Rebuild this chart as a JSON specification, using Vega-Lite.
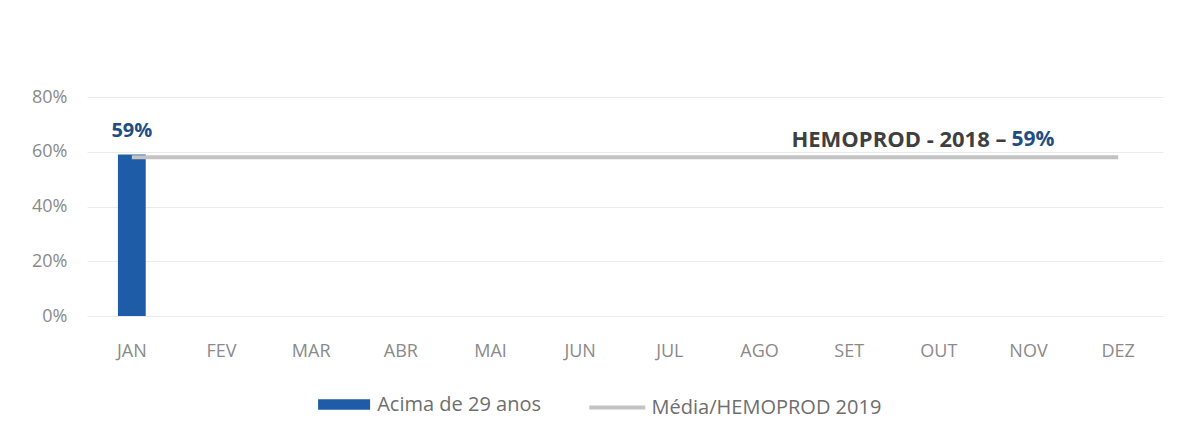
{
  "$schema": "https://vega.github.io/schema/vega-lite/v6.json",
  "width": 1076,
  "height": 219,
  "autosize": {"type": "none"},
  "padding": {"left": 87, "top": 97, "right": 19, "bottom": 125},
  "background": "white",
  "config": {
    "view": {"stroke": null},
    "font": "Open Sans",
    "axis": {"labelFont": "Open Sans", "labelColor": "#8a8a8a", "labelFontSize": 18, "domain": false, "ticks": false, "gridColor": "#ebebeb", "gridWidth": 1},
    "legend": {"labelFont": "Open Sans", "labelColor": "#6e6e6e", "labelFontSize": 20, "labelLimit": 400}
  },
  "data": {
    "values": [
      {"mes": "JAN", "acima": 0.59, "media": 0.58},
      {"mes": "FEV", "acima": null, "media": 0.58},
      {"mes": "MAR", "acima": null, "media": 0.58},
      {"mes": "ABR", "acima": null, "media": 0.58},
      {"mes": "MAI", "acima": null, "media": 0.58},
      {"mes": "JUN", "acima": null, "media": 0.58},
      {"mes": "JUL", "acima": null, "media": 0.58},
      {"mes": "AGO", "acima": null, "media": 0.58},
      {"mes": "SET", "acima": null, "media": 0.58},
      {"mes": "OUT", "acima": null, "media": 0.58},
      {"mes": "NOV", "acima": null, "media": 0.58},
      {"mes": "DEZ", "acima": null, "media": 0.58}
    ]
  },
  "encoding": {
    "x": {
      "field": "mes", "type": "nominal", "sort": null, "title": null,
      "scale": {"paddingInner": 0.69, "paddingOuter": 0.345},
      "axis": {"labelAngle": 0, "labelPadding": 26, "grid": false}
    }
  },
  "layer": [
    {
      "mark": {"type": "bar"},
      "encoding": {
        "y": {"field": "acima", "type": "quantitative", "title": null,
          "scale": {"domain": [0, 0.8]},
          "axis": {"format": ".0%", "values": [0, 0.2, 0.4, 0.6, 0.8], "labelPadding": 20}},
        "fill": {"datum": "Acima de 29 anos", "type": "nominal",
          "scale": {"range": ["#1f5ca8"]},
          "legend": {"title": null, "orient": "none", "legendX": 246.6, "legendY": 297, "symbolType": "M-2.5,-0.5H2.5V0.5H-2.5Z", "symbolSize": 432.6, "symbolStrokeWidth": 0, "labelOffset": 22.6}}
      }
    },
    {
      "mark": {"type": "line", "strokeWidth": 4},
      "encoding": {
        "y": {"field": "media", "type": "quantitative"},
        "stroke": {"datum": "Média/HEMOPROD 2019", "type": "nominal",
          "scale": {"range": ["#c3c3c3"]},
          "legend": {"title": null, "orient": "none", "legendX": 516.8, "legendY": 297, "symbolType": "M-2.5,0H2.5", "symbolSize": 501.8, "symbolStrokeWidth": 4, "labelOffset": 20.8}}
      }
    },
    {
      "transform": [{"filter": "datum.acima != null"}],
      "mark": {"type": "text", "baseline": "middle", "dy": -23.5, "fontWeight": "bold", "fontSize": 20, "color": "#1f4e84"},
      "encoding": {
        "y": {"field": "acima", "type": "quantitative"},
        "text": {"field": "acima", "type": "quantitative", "format": ".0%"}
      }
    },
    {
      "data": {"values": [{"mes": "NOV", "pos": 0.643, "rotulo": "HEMOPROD - 2018 –", "valor": "59%"}]},
      "mark": {"type": "text", "align": "right", "baseline": "middle", "dx": -22, "fontWeight": "bold", "fontSize": 22, "color": "#3f3f3f"},
      "encoding": {
        "y": {"field": "pos", "type": "quantitative"},
        "text": {"field": "rotulo"}
      }
    },
    {
      "data": {"values": [{"mes": "NOV", "pos": 0.643, "rotulo": "HEMOPROD - 2018 –", "valor": "59%"}]},
      "mark": {"type": "text", "align": "left", "baseline": "middle", "dx": -17, "fontWeight": "bold", "fontSize": 21, "color": "#1f4e84"},
      "encoding": {
        "y": {"field": "pos", "type": "quantitative"},
        "text": {"field": "valor"}
      }
    }
  ],
  "resolve": {"scale": {"y": "shared"}}
}
